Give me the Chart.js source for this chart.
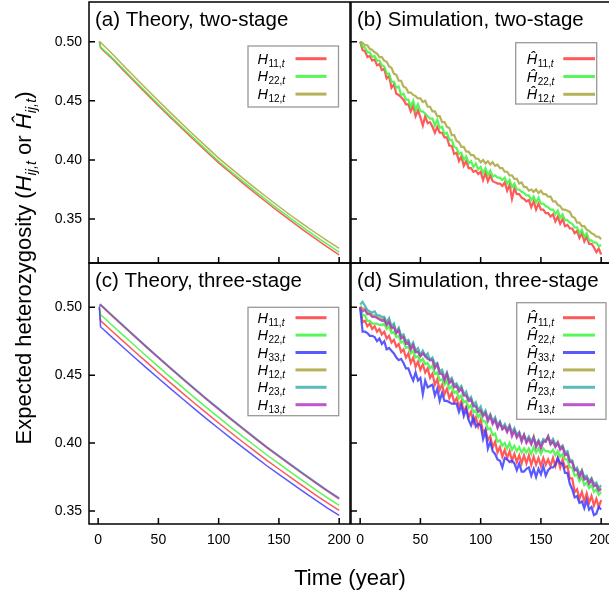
<!DOCTYPE html>
<html>
<head>
<meta charset="utf-8">
<script src="https://cdn.jsdelivr.net/npm/chart.js@4.4.0/dist/chart.umd.min.js"></script>
<style>
  html, body { margin: 0; padding: 0; overflow: hidden; background: #fff; }
  canvas { position: absolute; left: 0; top: 0; }
</style>
</head>
<body>
<canvas id="pa" width="620" height="594"></canvas>
<canvas id="pb" width="620" height="594"></canvas>
<canvas id="pc" width="620" height="594"></canvas>
<canvas id="pd" width="620" height="594"></canvas>
<script>
// ---- data ----
const panelTitles = ['(a) Theory, two-stage', '(b) Simulation, two-stage',
                     '(c) Theory, three-stage', '(d) Simulation, three-stage'];
const twoStageKeys = ['11', '22', '12'];
const threeStageKeys = ['11', '22', '33', '12', '23', '13'];
const xTicks = [0, 50, 100, 150, 200];
const yTicks = [0.35, 0.40, 0.45, 0.50];

const theoryYears = [1, 2, 4, 10, 20, 30, 40, 50, 60, 70, 80, 90, 100,
                     110, 120, 130, 140, 150, 160, 170, 180, 190, 200];

// (a) theory, two-stage
const thA_H11 = [.5000, .4950, .4928, .4872, .4768, .4664, .4561, .4459, .4359, .4261, .4164, .4069,
                 .3975, .3889, .3804, .3721, .3640, .3561, .3484, .3409, .3336, .3265, .3197];
const thA_H22 = [.5000, .4955, .4935, .4880, .4778, .4674, .4572, .4471, .4372, .4274, .4178, .4083,
                 .3989, .3904, .3820, .3738, .3658, .3580, .3504, .3430, .3358, .3288, .3220];
const thA_H12 = [.5000, .4995, .4975, .4915, .4810, .4705, .4602, .4500, .4400, .4302, .4205, .4110,
                 .4015, .3930, .3846, .3764, .3684, .3606, .3530, .3457, .3386, .3318, .3252];

// (c) theory, three-stage
const thC_H11 = [.5000, .4900, .4885, .4836, .4756, .4676, .4598, .4520, .4443, .4368, .4293, .4220,
                 .4148, .4078, .4008, .3940, .3872, .3809, .3745, .3683, .3621, .3561, .3504];
const thC_H22 = [.5000, .4945, .4930, .4881, .4800, .4720, .4641, .4563, .4486, .4410, .4335, .4261,
                 .4189, .4118, .4049, .3980, .3912, .3848, .3784, .3721, .3659, .3598, .3541];
const thC_H33 = [.5000, .4855, .4840, .4791, .4711, .4632, .4554, .4477, .4401, .4326, .4252, .4178,
                 .4107, .4037, .3968, .3900, .3833, .3770, .3707, .3644, .3583, .3523, .3467];
const thC_H12 = [.5003, .5013, .4998, .4948, .4866, .4785, .4705, .4626, .4548, .4471, .4395, .4320,
                 .4247, .4175, .4104, .4034, .3965, .3900, .3835, .3771, .3708, .3646, .3588];
const thC_H23 = [.5011, .5021, .5006, .4956, .4874, .4793, .4713, .4634, .4556, .4479, .4403, .4328,
                 .4255, .4183, .4112, .4042, .3973, .3908, .3843, .3779, .3716, .3654, .3596];
const thC_H13 = [.5006, .5016, .5001, .4951, .4869, .4788, .4708, .4629, .4551, .4474, .4398, .4323,
                 .4250, .4178, .4107, .4037, .3968, .3903, .3838, .3774, .3711, .3649, .3591];

const simYears = [0, 2, 4, 6, 8, 10, 12, 14, 16, 18, 20, 22, 24, 26, 28, 30, 32, 34, 36, 38,
                  40, 42, 44, 46, 48, 50, 52, 54, 56, 58, 60, 62, 64, 66, 68, 70, 72, 74, 76, 78,
                  80, 82, 84, 86, 88, 90, 92, 94, 96, 98, 100, 102, 104, 106, 108, 110, 112, 114, 116, 118,
                  120, 122, 124, 126, 128, 130, 132, 134, 136, 138, 140, 142, 144, 146, 148, 150, 152, 154, 156, 158,
                  160, 162, 164, 166, 168, 170, 172, 174, 176, 178, 180, 182, 184, 186, 188, 190, 192, 194, 196, 198, 200];

// (b) simulation, two-stage
const simB_H11 = [.500,.493,.492,.487,.488,.484,.485,.480,.481,.476,
                  .477,.469,.471,.461,.464,.456,.455,.453,.451,.447,
                  .447,.441,.446,.437,.442,.436,.429,.437,.431,.432,
                  .428,.423,.428,.423,.423,.419,.419,.412,.412,.405,
                  .406,.399,.403,.395,.399,.393,.393,.390,.391,.388,
                  .390,.383,.389,.382,.387,.382,.381,.380,.380,.378,
                  .381,.374,.379,.367,.376,.371,.371,.368,.367,.365,
                  .366,.360,.365,.358,.363,.358,.358,.355,.355,.352,
                  .354,.348,.352,.346,.350,.344,.345,.342,.342,.338,
                  .340,.334,.338,.331,.335,.329,.329,.326,.322,.325,
                  .320];
const simB_H22 = [.500,.496,.495,.491,.491,.487,.488,.484,.484,.480,
                  .479,.473,.473,.466,.466,.461,.462,.455,.456,.451,
                  .451,.445,.450,.442,.447,.441,.441,.439,.437,.435,
                  .435,.429,.434,.427,.428,.422,.423,.417,.417,.411,
                  .410,.405,.406,.400,.403,.397,.399,.394,.397,.392,
                  .394,.389,.393,.387,.391,.386,.387,.385,.385,.383,
                  .385,.380,.383,.377,.380,.375,.375,.373,.372,.370,
                  .370,.366,.369,.364,.368,.363,.363,.361,.360,.358,
                  .358,.354,.357,.351,.354,.349,.349,.347,.346,.343,
                  .343,.338,.341,.335,.338,.332,.332,.330,.330,.327,
                  .328];
const simB_H12 = [.500,.499,.497,.497,.494,.493,.491,.490,.487,.487,
                  .484,.483,.479,.478,.473,.472,.467,.467,.462,.461,
                  .457,.457,.455,.454,.452,.452,.449,.450,.445,.445,
                  .441,.441,.437,.437,.432,.432,.428,.427,.421,.421,
                  .416,.415,.411,.411,.407,.407,.404,.404,.401,.401,
                  .398,.400,.397,.399,.396,.398,.395,.396,.393,.393,
                  .390,.390,.387,.387,.384,.384,.380,.381,.377,.377,
                  .374,.375,.373,.375,.372,.374,.371,.371,.369,.369,
                  .365,.365,.362,.361,.358,.358,.357,.356,.352,.351,
                  .347,.347,.344,.344,.341,.340,.338,.337,.335,.335,
                  .333];

// (d) simulation, three-stage
const simD_H11 = [.500,.489,.490,.486,.488,.484,.486,.482,.484,.480,
                  .482,.477,.479,.474,.476,.471,.473,.467,.469,.463,
                  .466,.459,.463,.456,.460,.454,.458,.452,.455,.448,
                  .451,.443,.447,.439,.443,.436,.440,.433,.437,.430,
                  .433,.427,.431,.423,.427,.419,.423,.415,.419,.412,
                  .417,.408,.410,.402,.405,.397,.401,.393,.397,.390,
                  .395,.389,.394,.387,.392,.386,.391,.385,.391,.385,
                  .391,.384,.390,.384,.389,.383,.389,.384,.388,.383,
                  .389,.383,.389,.382,.388,.382,.383,.374,.374,.364,
                  .366,.359,.364,.357,.363,.356,.361,.354,.359,.353,
                  .358];
const simD_H22 = [.500,.494,.494,.490,.490,.488,.488,.488,.487,.487,
                  .488,.484,.486,.481,.482,.478,.479,.474,.475,.470,
                  .471,.466,.468,.463,.464,.460,.462,.458,.459,.455,
                  .457,.451,.452,.446,.447,.443,.446,.440,.442,.437,
                  .438,.433,.435,.430,.431,.426,.428,.423,.424,.419,
                  .422,.416,.416,.410,.411,.406,.407,.401,.402,.398,
                  .400,.396,.400,.395,.398,.394,.397,.393,.396,.393,
                  .396,.392,.397,.393,.396,.392,.396,.394,.394,.393,
                  .395,.391,.394,.390,.392,.388,.388,.382,.382,.376,
                  .377,.372,.375,.369,.371,.367,.369,.364,.366,.362,
                  .364];
const simD_H33 = [.500,.482,.482,.481,.479,.479,.478,.475,.477,.473,
                  .475,.469,.470,.468,.466,.463,.461,.462,.459,.455,
                  .455,.450,.446,.452,.446,.448,.436,.446,.441,.442,
                  .443,.435,.440,.431,.437,.431,.431,.430,.429,.429,
                  .429,.423,.428,.420,.425,.417,.413,.419,.412,.414,
                  .413,.403,.409,.396,.401,.394,.392,.388,.387,.382,
                  .389,.388,.386,.387,.385,.380,.385,.379,.379,.381,
                  .382,.376,.381,.375,.381,.377,.383,.376,.380,.382,
                  .382,.384,.389,.385,.385,.378,.378,.370,.366,.360,
                  .361,.356,.357,.352,.358,.351,.353,.347,.348,.353,
                  .351];
const simD_H12 = [.501,.499,.499,.496,.496,.494,.494,.493,.492,.491,
                  .492,.487,.491,.484,.487,.481,.484,.478,.479,.474,
                  .475,.469,.473,.467,.468,.464,.467,.465,.463,.462,
                  .462,.456,.458,.452,.452,.447,.451,.445,.447,.442,
                  .443,.439,.441,.436,.436,.432,.433,.428,.428,.424,
                  .425,.421,.423,.417,.421,.415,.418,.412,.415,.411,
                  .413,.409,.413,.407,.410,.405,.408,.402,.406,.401,
                  .404,.400,.405,.398,.402,.397,.402,.401,.405,.400,
                  .402,.398,.401,.396,.398,.392,.393,.387,.387,.381,
                  .381,.376,.380,.374,.375,.371,.374,.369,.370,.366,
                  .367];
const simD_H23 = [.502,.504,.501,.498,.497,.496,.497,.494,.494,.493,
                  .493,.489,.492,.486,.488,.482,.485,.479,.480,.475,
                  .476,.471,.474,.468,.470,.465,.468,.464,.466,.461,
                  .463,.458,.459,.453,.454,.448,.452,.446,.448,.443,
                  .444,.440,.442,.436,.438,.432,.434,.428,.430,.424,
                  .427,.421,.424,.418,.421,.416,.419,.413,.416,.411,
                  .414,.410,.413,.408,.411,.406,.408,.403,.406,.402,
                  .405,.401,.404,.399,.402,.399,.403,.402,.404,.400,
                  .403,.399,.400,.397,.398,.393,.394,.387,.387,.380,
                  .382,.377,.380,.375,.376,.372,.374,.370,.371,.367,
                  .369];
const simD_H13 = [.500,.497,.498,.495,.495,.493,.493,.492,.491,.490,
                  .491,.487,.489,.485,.485,.481,.483,.477,.478,.473,
                  .474,.469,.472,.467,.467,.464,.466,.464,.462,.461,
                  .461,.455,.458,.451,.451,.446,.451,.444,.446,.441,
                  .442,.438,.440,.435,.435,.431,.432,.427,.427,.423,
                  .424,.420,.422,.416,.420,.414,.417,.411,.415,.410,
                  .412,.408,.412,.405,.409,.404,.407,.401,.406,.400,
                  .403,.399,.404,.397,.401,.396,.401,.401,.405,.399,
                  .401,.397,.400,.395,.397,.391,.392,.386,.386,.380,
                  .380,.375,.379,.373,.374,.370,.373,.368,.369,.365,
                  .366];

// ---- styling ----
const FONT = '"Liberation Sans", Arial, Helvetica, sans-serif';
Chart.defaults.font.family = FONT;
const C_RED = 'rgba(255,60,60,0.85)', C_GREEN = 'rgba(60,245,60,0.85)', C_BLUE = 'rgba(60,60,255,0.85)';
const C_OLIVE = 'rgba(170,165,60,0.85)', C_CYAN = 'rgba(60,175,175,0.85)', C_PURPLE = 'rgba(175,60,190,0.85)';

const panelDecor = {
  id: 'panelDecor',
  afterDatasetsDraw(chart, args, o) {
    const ctx = chart.ctx, a = chart.chartArea;
    const sx = chart.scales.x, sy = chart.scales.y;
    ctx.save();
    // inward ticks + frame
    ctx.strokeStyle = '#000';
    ctx.lineWidth = 1.5;
    ctx.beginPath();
    xTicks.forEach(v => {
      const px = sx.getPixelForValue(v);
      ctx.moveTo(px, a.bottom); ctx.lineTo(px, a.bottom - 6);
    });
    yTicks.forEach(v => {
      const py = sy.getPixelForValue(v);
      ctx.moveTo(a.left, py); ctx.lineTo(a.left + 6, py);
    });
    ctx.stroke();
    ctx.strokeRect(a.left, a.top, a.right - a.left, a.bottom - a.top);

    // panel title
    ctx.fillStyle = '#000';
    ctx.font = '20.5px ' + FONT;
    ctx.textBaseline = 'alphabetic';
    ctx.fillText(o.title, a.left + 6, a.top + 24);

    // legend box
    const lg = o.legend;
    ctx.fillStyle = '#fff';
    ctx.fillRect(lg.x, lg.y, lg.w, lg.h);
    ctx.strokeStyle = '#999';
    ctx.lineWidth = 1.3;
    ctx.strokeRect(lg.x, lg.y, lg.w, lg.h);
    o.keys.forEach((k, i) => {
      const ry = lg.row0 + i * lg.step;
      const sym = o.hat ? '\u0124' : 'H';
      ctx.fillStyle = '#000';
      ctx.font = 'italic 14.5px ' + FONT;
      ctx.fillText(sym, lg.tx, ry + 5);
      let cx = lg.tx + ctx.measureText(sym).width + 0.5;
      ctx.font = '10px ' + FONT;
      ctx.fillText(k + ',', cx, ry + 8);
      cx += ctx.measureText(k + ',').width;
      ctx.font = 'italic 10px ' + FONT;
      ctx.fillText('t', cx, ry + 8);
      ctx.strokeStyle = chart.data.datasets[i].borderColor;
      ctx.lineWidth = 3;
      ctx.beginPath();
      ctx.moveTo(lg.l1, ry); ctx.lineTo(lg.l2, ry);
      ctx.stroke();
    });
    ctx.restore();
  }
};

// shared axis titles, drawn once on the last panel
function drawRich(ctx, parts, cx, y) {
  let total = 0;
  parts.forEach(p => { ctx.font = p.f; total += ctx.measureText(p.t).width; });
  let x = cx - total / 2;
  parts.forEach(p => {
    ctx.font = p.f;
    ctx.fillText(p.t, x, y + (p.dy || 0));
    x += ctx.measureText(p.t).width;
  });
}
const axisTitles = {
  id: 'axisTitles',
  afterDraw(chart) {
    const ctx = chart.ctx;
    ctx.save();
    ctx.fillStyle = '#000';
    ctx.textBaseline = 'alphabetic';
    drawRich(ctx, [{ t: 'Time (year)', f: '22px ' + FONT }], 350, 585);
    ctx.translate(31, 268);
    ctx.rotate(-Math.PI / 2);
    const big = '22px ' + FONT, bigI = 'italic 22px ' + FONT, sub = 'italic 14.5px ' + FONT;
    drawRich(ctx, [
      { t: 'Expected heterozygosity (', f: big },
      { t: 'H', f: bigI }, { t: 'ij,t', f: sub, dy: 5 },
      { t: ' or ', f: big },
      { t: '\u0124', f: bigI }, { t: 'ij,t', f: sub, dy: 5 },
      { t: ')', f: big }
    ], 0, 0);
    ctx.restore();
  }
};

function makePanel(id, cfg) {
  const n = cfg.series.length;
  const sets = cfg.series.map((ys, i) => ({
    data: cfg.years.map((x, k) => ({ x: x, y: ys[k] })),
    borderColor: cfg.colors[i],
    borderWidth: cfg.width,
    pointRadius: 0,
    tension: 0,
    order: n - i
  }));
  return new Chart(document.getElementById(id), {
    type: 'line',
    data: { datasets: sets },
    options: {
      responsive: false,
      animation: false,
      devicePixelRatio: 1,
      layout: { padding: cfg.padding },
      plugins: {
        legend: { display: false },
        tooltip: { enabled: false },
        panelDecor: { title: cfg.title, keys: cfg.keys, hat: cfg.hat, legend: cfg.legend }
      },
      scales: {
        x: {
          type: 'linear', min: -7.6, max: 209,
          display: cfg.showX,
          afterBuildTicks: s => { s.ticks = xTicks.map(v => ({ value: v })); },
          afterFit: s => {
            s.height = cfg.showX ? 30 : 0;
            s.paddingLeft = 0; s.paddingRight = 0;
          },
          grid: { display: false, drawTicks: false },
          border: { display: false },
          ticks: { padding: 8, color: '#000', font: { size: 14 }, maxRotation: 0, autoSkip: false,
                   callback: v => String(v) }
        },
        y: {
          type: 'linear', min: cfg.yMin, max: cfg.yMax,
          display: cfg.showY,
          afterBuildTicks: s => { s.ticks = yTicks.map(v => ({ value: v })); },
          afterFit: s => {
            s.width = cfg.showY ? 40 : 0;
            s.paddingTop = 0; s.paddingBottom = 0;
          },
          grid: { display: false, drawTicks: false },
          border: { display: false },
          ticks: { padding: 7, color: '#000', font: { size: 14 }, autoSkip: false,
                   callback: v => v.toFixed(2) }
        }
      }
    },
    plugins: cfg.extra ? [panelDecor, axisTitles] : [panelDecor]
  });
}

makePanel('pa', {
  title: panelTitles[0], keys: twoStageKeys, hat: false,
  years: theoryYears, series: [thA_H11, thA_H22, thA_H12],
  colors: [C_RED, C_GREEN, C_OLIVE], width: 1.5,
  yMin: 0.3128, yMax: 0.5336, showX: false, showY: true,
  padding: { left: 49, top: 2, right: 270, bottom: 331 },
  legend: { x: 248, y: 46, w: 90.5, h: 61, row0: 58.7, step: 17.7, tx: 257.5, l1: 295.5, l2: 326.5 }
});
makePanel('pb', {
  title: panelTitles[1], keys: twoStageKeys, hat: true,
  years: simYears, series: [simB_H11, simB_H22, simB_H12],
  colors: [C_RED, C_GREEN, C_OLIVE], width: 2.2,
  yMin: 0.3128, yMax: 0.5336, showX: false, showY: false,
  padding: { left: 351, top: 2, right: 8, bottom: 331 },
  legend: { x: 515.7, y: 42.7, w: 81, h: 61.3, row0: 58.7, step: 17.8, tx: 526.7, l1: 563.3, l2: 595 }
});
makePanel('pc', {
  title: panelTitles[2], keys: threeStageKeys, hat: false,
  years: theoryYears, series: [thC_H11, thC_H22, thC_H33, thC_H12, thC_H23, thC_H13],
  colors: [C_RED, C_GREEN, C_BLUE, C_OLIVE, C_CYAN, C_PURPLE], width: 1.5,
  yMin: 0.3404, yMax: 0.5326, showX: true, showY: true,
  padding: { left: 49, top: 263, right: 270, bottom: 40 },
  legend: { x: 248, y: 307.3, w: 90.7, h: 108.4, row0: 317.7, step: 17.4, tx: 257.5, l1: 295.5, l2: 326.5 }
});
makePanel('pd', {
  title: panelTitles[3], keys: threeStageKeys, hat: true,
  years: simYears, series: [simD_H11, simD_H22, simD_H33, simD_H12, simD_H23, simD_H13],
  colors: [C_RED, C_GREEN, C_BLUE, C_OLIVE, C_CYAN, C_PURPLE], width: 2.2,
  yMin: 0.3404, yMax: 0.5326, showX: true, showY: false,
  padding: { left: 351, top: 263, right: 8, bottom: 40 },
  legend: { x: 516.7, y: 302.7, w: 89.3, h: 116.6, row0: 317.7, step: 17.4, tx: 527, l1: 563, l2: 595 },
  extra: true
});
</script>
</body>
</html>
